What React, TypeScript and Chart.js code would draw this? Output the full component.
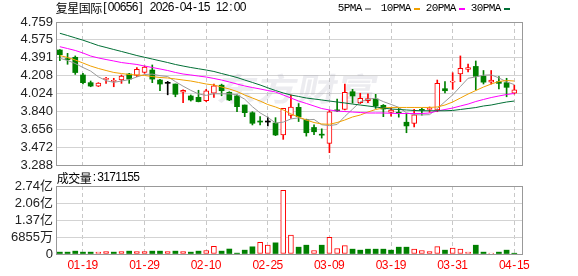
import React, { useEffect, useRef } from "react";
import { Chart, registerables } from "chart.js";

Chart.register(...registerables);

// ---------- data ----------
const titleText = "复星国际[00656] 2026-04-15 12:00";
const volumeLabel = "成交量:3171155";
const maNames = ["5PMA", "10PMA", "20PMA", "30PMA"];

const xTickIndex = [3, 11, 19, 27, 35, 43, 51, 59];
const xTickLabels = ["01-19", "01-29", "02-10", "02-25", "03-09", "03-19", "03-31", "04-15"];

const priceMin = 3.288;
const priceMax = 4.759;
const priceTickLabels = ["3.288", "3.472", "3.656", "3.840", "4.024", "4.208", "4.391", "4.575", "4.759"];

const volMax = 274200000;
const volTickLabels = ["0", "6855万", "1.37亿", "2.06亿", "2.74亿"];

const prevClose = 4.47;

const openP = [
  4.471, 4.378, 4.396, 4.214, 4.135, 4.098, 4.168, 4.148, 4.162, 4.224,
  4.209, 4.241, 4.265, 4.162, 4.128, 4.121, 4.036, 3.998, 3.984, 3.950,
  4.026, 4.109, 4.036, 3.999, 3.905, 3.826, 3.737, 3.730, 3.720, 3.597,
  3.798, 3.881, 3.755, 3.674, 3.600, 3.511, 3.851, 3.861, 4.042, 3.929,
  3.950, 3.967, 3.902, 3.830, 3.823, 3.728, 3.717, 3.854, 3.860, 3.854,
  4.073, 4.140, 4.224, 4.270, 4.302, 4.203, 4.139, 4.145, 4.135, 4.026,
];
const highP = [
  4.475, 4.437, 4.410, 4.232, 4.152, 4.135, 4.190, 4.180, 4.214, 4.231,
  4.289, 4.306, 4.317, 4.169, 4.148, 4.121, 4.060, 4.008, 4.057, 4.066,
  4.120, 4.120, 4.042, 4.010, 3.905, 3.836, 3.785, 3.780, 3.775, 3.871,
  4.008, 3.920, 3.760, 3.700, 3.660, 3.850, 3.967, 4.121, 4.066, 4.026,
  4.020, 4.015, 3.910, 3.870, 3.870, 3.820, 3.861, 3.870, 3.885, 4.162,
  4.145, 4.237, 4.410, 4.327, 4.358, 4.260, 4.260, 4.197, 4.180, 4.110,
];
const lowP = [
  4.360, 4.324, 4.220, 4.121, 4.093, 4.095, 4.128, 4.093, 4.128, 4.128,
  4.197, 4.231, 4.135, 4.052, 4.010, 3.990, 3.930, 3.946, 3.937, 3.940,
  3.984, 4.000, 3.950, 3.836, 3.785, 3.700, 3.700, 3.690, 3.590, 3.552,
  3.768, 3.735, 3.585, 3.600, 3.565, 3.415, 3.836, 3.854, 3.924, 3.920,
  3.930, 3.870, 3.785, 3.790, 3.780, 3.620, 3.680, 3.800, 3.830, 3.836,
  4.030, 4.066, 4.145, 4.245, 4.060, 4.121, 4.120, 4.070, 3.990, 4.018,
];
const closeP = [
  4.423, 4.372, 4.239, 4.135, 4.100, 4.131, 4.172, 4.152, 4.203, 4.172,
  4.273, 4.296, 4.172, 4.121, 4.128, 4.015, 4.057, 3.957, 3.940, 4.050,
  4.102, 4.052, 3.957, 3.888, 3.826, 3.717, 3.730, 3.730, 3.597, 3.871,
  3.884, 3.785, 3.620, 3.630, 3.595, 3.836, 3.845, 4.036, 3.998, 3.974,
  3.970, 3.895, 3.864, 3.854, 3.820, 3.690, 3.803, 3.850, 3.868, 4.128,
  4.052, 4.145, 4.283, 4.290, 4.200, 4.140, 4.162, 4.128, 4.087, 4.060,
];

const ma5 = [
  4.386, 4.363, 4.332, 4.291, 4.254, 4.195, 4.155, 4.138, 4.152, 4.166,
  4.194, 4.219, 4.223, 4.207, 4.198, 4.146, 4.099, 4.056, 4.019, 4.004,
  4.021, 4.020, 4.020, 4.010, 3.965, 3.888, 3.824, 3.778, 3.720, 3.729,
  3.762, 3.773, 3.751, 3.757, 3.702, 3.693, 3.705, 3.788, 3.862, 3.938,
  3.965, 3.975, 3.940, 3.911, 3.881, 3.825, 3.806, 3.803, 3.806, 3.868,
  3.940, 4.009, 4.095, 4.180, 4.194, 4.212, 4.215, 4.184, 4.143, 4.115,
];
const ma10 = [
  4.414, 4.394, 4.368, 4.337, 4.306, 4.281, 4.260, 4.240, 4.229, 4.219,
  4.214, 4.209, 4.198, 4.188, 4.183, 4.173, 4.162, 4.152, 4.137, 4.121,
  4.111, 4.090, 4.070, 4.044, 4.008, 3.977, 3.946, 3.910, 3.885, 3.854,
  3.813, 3.782, 3.751, 3.725, 3.710, 3.707, 3.725, 3.751, 3.782, 3.802,
  3.833, 3.859, 3.874, 3.880, 3.880, 3.880, 3.880, 3.880, 3.880, 3.885,
  3.905, 3.936, 3.977, 4.018, 4.054, 4.090, 4.121, 4.147, 4.157, 4.152,
];
const ma20 = [
  4.505, 4.486, 4.466, 4.440, 4.409, 4.389, 4.373, 4.358, 4.342, 4.332,
  4.322, 4.306, 4.291, 4.276, 4.260, 4.240, 4.224, 4.214, 4.203, 4.193,
  4.178, 4.162, 4.142, 4.121, 4.101, 4.085, 4.070, 4.054, 4.039, 4.008,
  3.977, 3.946, 3.921, 3.895, 3.869, 3.854, 3.843, 3.838, 3.833, 3.828,
  3.823, 3.823, 3.823, 3.820, 3.818, 3.818, 3.818, 3.818, 3.823, 3.843,
  3.859, 3.874, 3.895, 3.915, 3.941, 3.962, 3.982, 3.998, 4.013, 4.024,
];
const ma30 = [
  4.643, 4.620, 4.596, 4.572, 4.545, 4.517, 4.497, 4.476, 4.456, 4.435,
  4.414, 4.396, 4.378, 4.360, 4.342, 4.322, 4.306, 4.291, 4.278, 4.265,
  4.250, 4.229, 4.209, 4.188, 4.162, 4.137, 4.111, 4.082, 4.054, 4.029,
  4.008, 3.993, 3.977, 3.967, 3.957, 3.946, 3.936, 3.926, 3.915, 3.905,
  3.895, 3.885, 3.874, 3.864, 3.859, 3.854, 3.849, 3.846, 3.846, 3.846,
  3.846, 3.849, 3.859, 3.869, 3.879, 3.895, 3.905, 3.921, 3.936, 3.946,
];

const volume = [
  7500000, 7500000, 11500000, 7500000, 7500000, 7500000, 10000000, 7500000, 10000000, 11500000,
  10000000, 10000000, 11500000, 11500000, 10000000, 11500000, 10000000, 7500000, 11500000, 14000000,
  31000000, 11500000, 20000000, 3500000, 15500000, 29000000, 47000000, 36000000, 45000000, 257000000,
  76000000, 27500000, 35500000, 14000000, 35500000, 67000000, 22000000, 34000000, 19500000, 15500000,
  19500000, 19500000, 19500000, 15500000, 27500000, 27500000, 19500000, 14000000, 10000000, 30000000,
  15500000, 23500000, 19500000, 7500000, 35500000, 7500000, 3500000, 7500000, 15500000, 3171155,
];

// ---------- styles ----------
const RED = "#ff0000";
const GREEN = "#008000";
const BLACK = "#000000";
const MA_COLORS = ["#999999", "#f0a000", "#ff00ff", "#006f35"];
const GRID = "#d3d3d3";
const VGRID = "#c8c8c8";
const FRAME = "#999999";
const SANS = "'Liberation Sans', Arial, sans-serif";
const MONO = "'Liberation Mono', 'Courier New', monospace";
const CJK = "'Noto Sans CJK SC', sans-serif";

const idx = closeP.map((_, i) => i);
const candleColor = (i: number) =>
  closeP[i] > openP[i] ? RED : closeP[i] < openP[i] ? GREEN : BLACK;
const volUp = (i: number) => closeP[i] >= (i === 0 ? prevClose : closeP[i - 1]);

function drawCells(
  ctx: CanvasRenderingContext2D,
  text: string,
  x: number,
  yMid: number,
  latinFont: string,
  color: string,
  cjkAdv = 11.5,
  latinAdv = 6
) {
  ctx.save();
  ctx.fillStyle = color;
  ctx.textBaseline = "middle";
  ctx.textAlign = "center";
  let cx = x;
  for (const ch of text) {
    const wide = ch.charCodeAt(0) > 0x2e80;
    const w = wide ? cjkAdv : latinAdv;
    ctx.font = wide ? `12px ${CJK}` : latinFont;
    ctx.fillText(ch, cx + w / 2, yMid);
    cx += w;
  }
  ctx.restore();
  return cx;
}

const framePlugin = {
  id: "frame",
  beforeDatasetsDraw(chart: any) {
    const { ctx, chartArea: a } = chart;
    ctx.save();
    ctx.strokeStyle = FRAME;
    ctx.lineWidth = 1;
    ctx.strokeRect(a.left + 0.5, a.top + 0.5, a.right - a.left, a.bottom - a.top);
    ctx.restore();
  },
};

const watermarkPlugin = {
  id: "watermark",
  beforeDatasetsDraw(chart: any) {
    const ctx = chart.ctx;
    ctx.save();
    ctx.font = `bold 32px ${CJK}`;
    ctx.fillStyle = "rgba(170,170,185,0.22)";
    ctx.textAlign = "center";
    ctx.textBaseline = "middle";
    ctx.translate(298, 89);
    ctx.transform(1.25, 0, -0.2, 1, 0, 0);
    ctx.fillText("东方财富", 0, 0);
    ctx.restore();
  },
};

const headerPlugin = {
  id: "header",
  afterDraw(chart: any) {
    const ctx = chart.ctx;
    drawCells(ctx, titleText, 56, 8, `12px ${SANS}`, "#000");
    const legendX = [338, 381, 426, 471];
    maNames.forEach((name, k) => {
      const end = drawCells(ctx, name, legendX[k], 8.5, `11px ${MONO}`, "#000");
      ctx.save();
      ctx.fillStyle = MA_COLORS[k];
      ctx.fillRect(Math.round(end + 3), 8, 6, 2);
      ctx.restore();
    });
  },
};

const volTextPlugin = {
  id: "volText",
  afterDraw(chart: any) {
    const ctx = chart.ctx;
    drawCells(ctx, volumeLabel, 57, 10, `12px ${SANS}`, "#000");
    const xs = chart.scales.x;
    xTickIndex.forEach((v, k) => {
      const px = xs.getPixelForValue(v);
      const label = xTickLabels[k];
      drawCells(ctx, label, px - (label.length * 6) / 2, 98, `12px ${SANS}`, RED);
    });
  },
};

const xScaleCommon = {
  type: "linear" as const,
  min: -0.5,
  max: 60,
  offset: false,
  afterBuildTicks: (s: any) => {
    s.ticks = xTickIndex.map((v) => ({ value: v }));
  },
  afterFit: (s: any) => {
    s.height = 0;
  },
  ticks: { display: false, autoSkip: false },
  grid: { color: VGRID, drawTicks: false, offset: false, lineWidth: 1 },
  border: { display: false, dash: [4, 3] },
};

export default function App() {
  const refA = useRef<HTMLCanvasElement>(null);
  const refB = useRef<HTMLCanvasElement>(null);

  useEffect(() => {
    const wickData = idx.map((i) => ({ x: i, y: [lowP[i], highP[i]] }));
    const bodyData = idx.map((i) => ({ x: i, y: [openP[i], closeP[i]] }));
    const maArrays = [ma5, ma10, ma20, ma30];

    const chartA = new Chart(refA.current as HTMLCanvasElement, {
      type: "bar",
      data: {
        datasets: [
          {
            type: "bar",
            data: wickData as any,
            backgroundColor: idx.map(candleColor),
            borderWidth: 0,
            barThickness: 1,
            grouped: false,
            minBarLength: 1,
            order: 10,
          } as any,
          {
            type: "bar",
            data: bodyData as any,
            backgroundColor: idx.map((i) => (closeP[i] > openP[i] ? "#ffffff" : candleColor(i))),
            borderColor: idx.map(candleColor),
            borderWidth: idx.map((i) => (closeP[i] > openP[i] ? 1 : 0)),
            borderSkipped: false,
            barThickness: 5,
            grouped: false,
            minBarLength: 1,
            order: 9,
          } as any,
          ...maArrays.map((arr, k) => ({
            type: "line",
            data: arr.map((v, i) => ({ x: i, y: v })),
            borderColor: MA_COLORS[k],
            borderWidth: 1,
            pointRadius: 0,
            tension: 0,
            fill: false,
            order: 4 - k,
          })) as any,
        ],
      },
      options: {
        animation: false,
        responsive: false,
        devicePixelRatio: 1,
        events: [],
        layout: { padding: { left: 0, right: 56, top: 22, bottom: 15 } },
        plugins: { legend: { display: false }, tooltip: { enabled: false } },
        scales: {
          x: xScaleCommon as any,
          y: {
            type: "linear",
            min: priceMin,
            max: priceMax,
            afterBuildTicks: (s: any) => {
              s.ticks = priceTickLabels.map((_, k) => ({
                value: priceMin + (k * (priceMax - priceMin)) / 8,
              }));
            },
            afterFit: (s: any) => {
              s.width = 56;
            },
            ticks: {
              autoSkip: false,
              padding: 3,
              color: "#222",
              font: { family: SANS, size: 13 },
              callback: (_v: any, i: number) => priceTickLabels[i],
            },
            grid: { color: GRID, drawTicks: false },
            border: { display: false },
          },
        },
      },
      plugins: [watermarkPlugin, framePlugin, headerPlugin],
    } as any);

    const chartB = new Chart(refB.current as HTMLCanvasElement, {
      type: "bar",
      data: {
        datasets: [
          {
            data: idx.map((i) => ({ x: i, y: volume[i] })) as any,
            backgroundColor: idx.map((i) => (volUp(i) ? "#ffffff" : GREEN)),
            borderColor: idx.map((i) => (volUp(i) ? RED : GREEN)),
            borderWidth: idx.map((i) => (volUp(i) ? 1 : 0)),
            borderSkipped: false,
            barThickness: 5,
            grouped: false,
          } as any,
        ],
      },
      options: {
        animation: false,
        responsive: false,
        devicePixelRatio: 1,
        events: [],
        layout: { padding: { left: 0, right: 56, top: 18, bottom: 22 } },
        plugins: { legend: { display: false }, tooltip: { enabled: false } },
        scales: {
          x: xScaleCommon as any,
          y: {
            type: "linear",
            min: 0,
            max: volMax,
            afterBuildTicks: (s: any) => {
              s.ticks = volTickLabels.map((_, k) => ({ value: (k * volMax) / 4 }));
            },
            afterFit: (s: any) => {
              s.width = 56;
            },
            ticks: {
              autoSkip: false,
              padding: 3,
              color: "#222",
              font: { family: `${SANS.split(",")[0]}, ${CJK}`, size: 13 },
              callback: (_v: any, i: number) => volTickLabels[i],
            },
            grid: { color: GRID, drawTicks: false },
            border: { display: false },
          },
        },
      },
      plugins: [framePlugin, volTextPlugin],
    } as any);

    return () => {
      chartA.destroy();
      chartB.destroy();
    };
  }, []);

  return (
    <div
      style={{
        position: "absolute",
        left: 0,
        top: 0,
        width: 578,
        height: 276,
        background: "#ffffff",
        overflow: "hidden",
      }}
    >
      <canvas ref={refA} width={578} height={180} style={{ position: "absolute", left: 0, top: 0 }} />
      <canvas ref={refB} width={578} height={108} style={{ position: "absolute", left: 0, top: 168 }} />
    </div>
  );
}
